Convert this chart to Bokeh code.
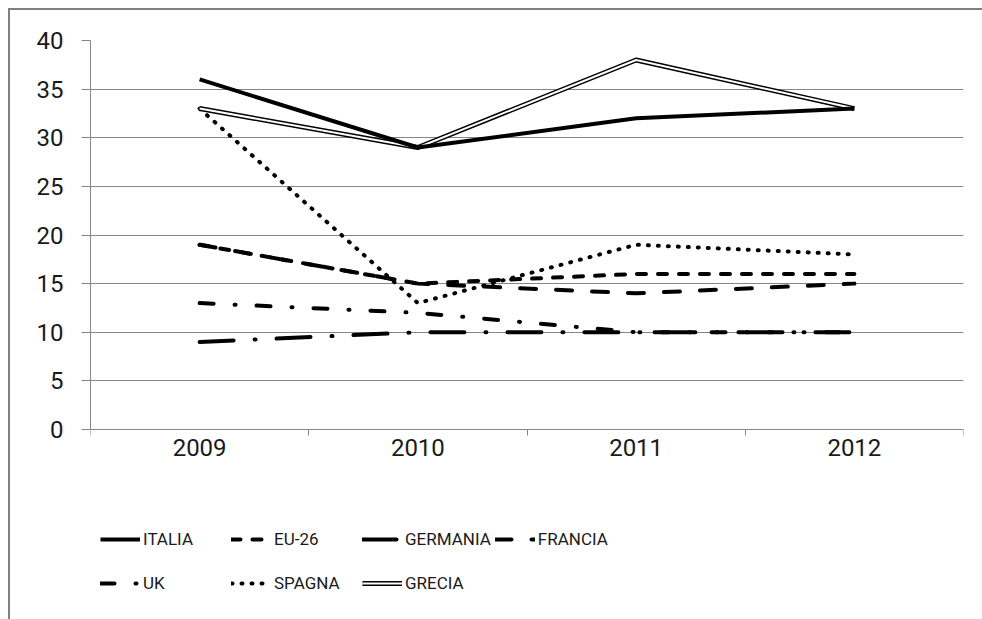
import numpy as np
from bokeh.plotting import figure
from bokeh.models import Range1d, FixedTicker, Legend, LegendItem, ColumnDataSource
from bokeh.embed import file_html
from bokeh.resources import INLINE

years = ["2009", "2010", "2011", "2012"]
italia = [36, 29, 32, 33]
eu26 = [19, 15, 16, 16]
germania = [9, 10, 10, 10]
francia = [19, 15, 14, 15]
uk = [13, 12, 10, 10]
spagna = [33, 13, 19, 18]
grecia = [33, 29, 38, 33]
y_ticks = [0, 5, 10, 15, 20, 25, 30, 35, 40]

FONT = "Roboto"
GRAY = "#868686"

# layout: the 0..40 band occupies the top 389 px of the frame, the legend sits below it
PLOT_PX = 389
FRAME_PX = 579
y_max = y_ticks[-1]
y_min = y_max - y_max * FRAME_PX / PLOT_PX

x = [i + 0.5 for i in range(len(years))]

p = figure(frame_width=873, frame_height=FRAME_PX, output_backend="svg", toolbar_location=None,
           x_range=Range1d(0, len(years)), y_range=Range1d(y_min, y_max),
           min_border_left=80, min_border_right=19, min_border_top=30, min_border_bottom=0)
p.margin = (8, 0, 0, 8)
p.styles = {"border-left": "2px solid #808080", "border-top": "2px solid #808080"}
p.outline_line_color = None
p.background_fill_color = "white"
p.border_fill_color = "white"

# axes
p.xaxis.fixed_location = 0
p.xaxis.ticker = FixedTicker(ticks=x, minor_ticks=list(range(len(years) + 1)))
p.xaxis.major_label_overrides = {xi: y for xi, y in zip(x, years)}
p.xaxis.major_tick_line_color = None
p.xaxis.major_tick_out = 0
p.xaxis.major_tick_in = 0
p.xaxis.minor_tick_line_color = GRAY
p.xaxis.minor_tick_out = 6
p.xaxis.minor_tick_in = 0
p.xaxis.axis_line_color = GRAY
p.xaxis.major_label_standoff = 3
p.yaxis.ticker = FixedTicker(ticks=y_ticks)
p.yaxis.bounds = (y_ticks[0], y_ticks[-1])
p.yaxis.minor_tick_line_color = None
p.yaxis.major_tick_line_color = GRAY
p.yaxis.major_tick_out = 9
p.yaxis.major_tick_in = 0
p.yaxis.axis_line_color = GRAY
p.yaxis.major_label_standoff = 18
for ax in (p.xaxis, p.yaxis):
    ax.major_label_text_font = FONT
    ax.major_label_text_font_size = "24px"
    ax.major_label_text_color = "#1a1a1a"
p.xgrid.grid_line_color = None
p.ygrid.ticker = FixedTicker(ticks=y_ticks)
p.ygrid.grid_line_color = GRAY

src = ColumnDataSource(dict(x=x, italia=italia, eu26=eu26, germania=germania,
                            francia=francia, uk=uk, spagna=spagna, grecia=grecia))

common = dict(line_color="black", line_join="round", line_cap="round")
r_ger = p.line("x", "germania", source=src, line_width=4, line_dash="34 21 1 21", **common)
r_uk = p.line("x", "uk", source=src, line_width=4, line_dash="14 21 1 21", **common)
r_fra = p.line("x", "francia", source=src, line_width=4, line_dash="16 20", **common)
r_eu = p.line("x", "eu26", source=src, line_width=4, line_dash="9 12", **common)
r_spa = p.line("x", "spagna", source=src, line_width=4, line_dash="1 9", **common)
r_gre1 = p.line("x", "grecia", source=src, line_width=5, line_color="black", line_join="round")
r_gre2 = p.line("x", "grecia", source=src, line_width=2, line_color="white", line_join="round")
r_ita = p.line("x", "italia", source=src, line_width=4, line_color="black", line_join="round")

items = [
    LegendItem(label="ITALIA", renderers=[r_ita]),
    LegendItem(label="EU-26", renderers=[r_eu]),
    LegendItem(label="GERMANIA", renderers=[r_ger]),
    LegendItem(label="FRANCIA", renderers=[r_fra]),
    LegendItem(label="UK", renderers=[r_uk]),
    LegendItem(label="SPAGNA", renderers=[r_spa]),
    LegendItem(label="GRECIA", renderers=[r_gre1, r_gre2]),
]
legend = Legend(items=items, ncols=4, orientation="horizontal", location=(10, 16),
                glyph_width=40, glyph_height=40, label_height=40, label_width=84,
                label_standoff=3, spacing=4, padding=0, margin=0,
                border_line_color=None, background_fill_alpha=0,
                label_text_font=FONT, label_text_font_size="17px",
                label_text_color="#1a1a1a")
p.add_layout(legend, "center")

open("out.html", "w").write(file_html(p, INLINE))
